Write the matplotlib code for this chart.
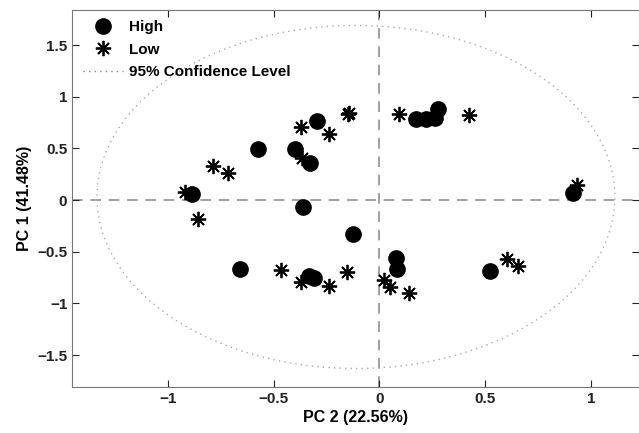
import matplotlib
matplotlib.use("Agg")
import matplotlib.pyplot as plt
from matplotlib.patches import Ellipse

plt.rcParams['font.family'] = ['Liberation Sans', 'DejaVu Sans']
plt.rcParams['font.weight'] = 'bold'

# PC scores
high_x = [-0.887, -0.572, -0.399, -0.328, -0.296, -0.362, 0.174, 0.221, 0.263, 0.279,
          -0.123, -0.659, -0.331, -0.307, 0.078, 0.084, 0.523, 0.917]
high_y = [0.058, 0.494, 0.494, 0.361, 0.768, -0.071, 0.781, 0.781, 0.791, 0.881,
          -0.329, -0.668, -0.733, -0.752, -0.565, -0.671, -0.684, 0.065]
low_x = [-0.919, -0.785, -0.714, -0.856, -0.370, -0.367, -0.236, -0.143, -0.150, 0.095, 0.426,
         -0.465, -0.370, -0.238, -0.154, 0.024, 0.051, 0.142, 0.602, 0.657, 0.933]
low_y = [0.080, 0.329, 0.264, -0.187, 0.704, 0.404, 0.636, 0.845, 0.830, 0.833, 0.823,
         -0.678, -0.791, -0.829, -0.700, -0.774, -0.845, -0.897, -0.571, -0.639, 0.145]

# 95% confidence ellipse
ell_center = (-0.111, 0.03)
ell_width = 2.45
ell_height = 3.32

fig = plt.figure(figsize=(6.39, 4.33), dpi=100)
ax = fig.add_axes([0.113, 0.106, 0.887, 0.872])

ax.axhline(0, color='#888888', lw=1.1, ls=(0, (7, 5)), zorder=1)
ax.axvline(0, color='#888888', lw=1.1, ls=(0, (7, 5)), zorder=1)

ax.plot(high_x, high_y, 'o', color='black', ms=11, ls='none', label='High', zorder=3)
ax.plot(low_x, low_y, marker=(8, 2, 0), color='black', ms=11, mew=1.3, ls='none',
        label='Low', zorder=3)
ell = Ellipse(ell_center, ell_width, ell_height, fill=False, ls=(0, (1, 3)), lw=1.0,
              edgecolor='#aaaaaa', zorder=2)
ax.add_patch(ell)
ax.plot([], [], ls=(0, (1, 3)), lw=1.0, color='#888888', label='95% Confidence Level')

ax.set_xlim(-1.453, 1.228)
ax.set_ylim(-1.81, 1.844)
ax.set_xticks([-1, -0.5, 0, 0.5, 1])
ax.set_xticklabels(['\u22121', '\u22120.5', '0', '0.5', '1'])
ax.set_yticks([-1.5, -1, -0.5, 0, 0.5, 1, 1.5])
ax.set_yticklabels(['\u22121.5', '\u22121', '\u22120.5', '0', '0.5', '1', '1.5'])
ax.tick_params(direction='in', length=5, labelsize=11, colors='#222222', top=True, right=True)
for s in ax.spines.values():
    s.set_color('#777777')
ax.set_xlabel('PC 2 (22.56%)', fontsize=11.5, fontweight='bold', labelpad=3)
ax.set_ylabel('PC 1 (41.48%)', fontsize=11.5, fontweight='bold', labelpad=4)

leg = ax.legend(loc='upper left', frameon=False, fontsize=11, handlelength=2.6,
                borderaxespad=0.3, labelspacing=0.55, handletextpad=0.45)

fig.savefig('out.png', dpi=100)
